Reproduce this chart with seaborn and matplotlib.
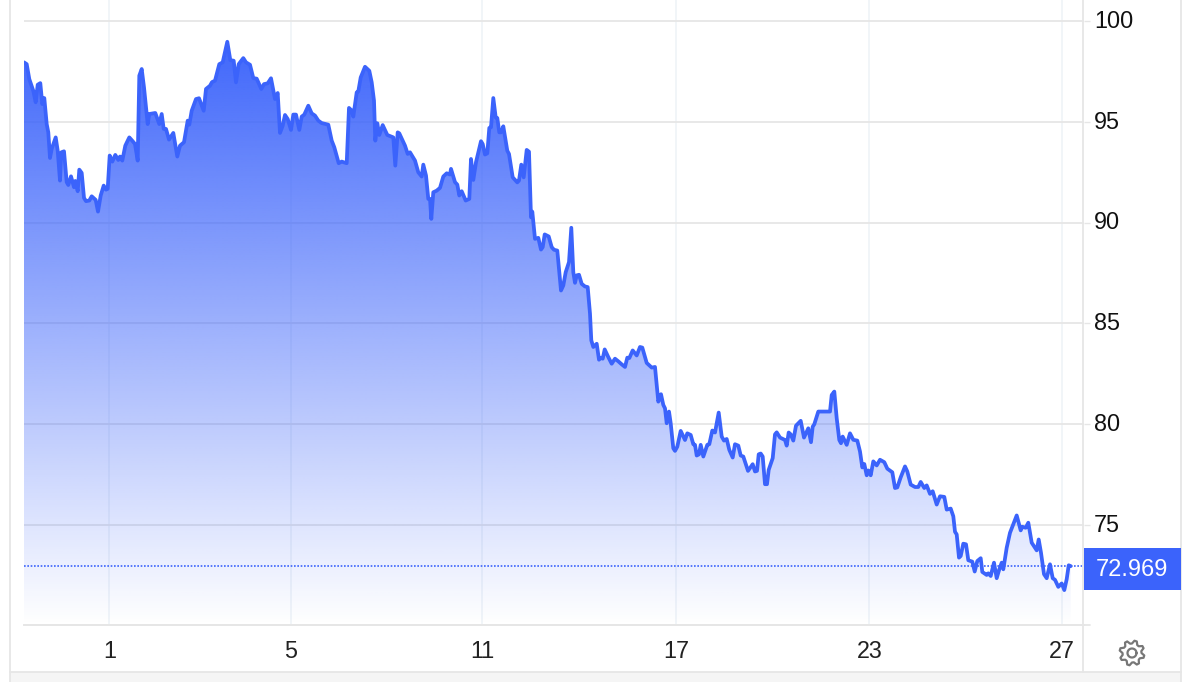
import numpy as np
import pandas as pd
import matplotlib
matplotlib.use("Agg")
import matplotlib.pyplot as plt
from matplotlib.patches import Rectangle, Polygon
from matplotlib.lines import Line2D
from matplotlib.transforms import ScaledTranslation
import seaborn as sns

session_t = [0,2.7,5.3,9.3,11.7,13.7,16.3,18.3,20.3,22.7,24.3,26,27.7,31.7,33.7,36,37.3,40,42.7,44.3,47,50,51.3,53.7,55.3,57.7,60,62,65.3,67.7,71.7,74,76.7,79.7,82,83.7,85.7,88.3,91.3,94.3,96,98.3,101.3,105.3,108.7,111,113.7,115.3,117.7,120,123.7,125.3,131.3,135.3,137.7,139.7,142,145,149.3,153.3,156,160,163.7,165.3,167.7,172,175,179.7,182,186,188,191,195.3,198.7,203.3,206.3,209.7,212,214.7,219.3,222,226,229.3,232.7,237.3,240,243.7,247,251,253.7,256,258.7,261,263.7,267,269.3,272,275.3,277.7,280.3,284.3,287.7,291,294.3,297.7,304.3,307.7,310.3,314.7,317.7,322.7,
325,327.7,329.3,332.7,334.3,336.7,341,345.3,347.7,350,351.3,353.3,355.3,358.7,363.3,369.3,371.3,373.7,375.3,381,383.7,386,391,394.3,397.7,399.3,402,404.3,406,407.3,409.3,412.7,416,419.3,422.7,426,
427,431,433.3,435.3,437.7,441.7,445.3,447,449.3,452,457,458.7,461,463.3,465.3,467,469.3,471.7,473.3,475.3,477,479.3,483.3,485,488.7,493.3,495,497.3,499.7,502.7,505,507,508.3,511,514.3,517,518.7,520.7,524.7,527.7,530,533.3,537,539.3,541.7,545,547.3,549.3,551,552.7,555,557.7,561,563.7,566,567.3,569.3,572.7,575,577,578.7,580.7,584.3,587.7,591,594.3,597.7,601,603.3,605.3,608.7,612.7,616,618.3,622.7,627.7,631,
634.3,637,639.3,641,642.7,645,646.7,649.3,651,653.3,656.7,661,663.3,666.7,669.3,671,672.7,675,676.7,679.3,683.3,685.3,688.3,691,694.7,697.7,700,702.7,705.3,708.7,711,714.3,716.7,719.3,724,728.7,731,733,734.7,736.7,738.7,741,743,744.7,748.7,751,752.7,756,761,762.7,764.7,766.7,769.3,772,776.7,780,784.3,787,788.7,790.3,794.3,806,807.7,810.3,812.7,815.3,817,818.7,822.7,826,
829.3,833.3,836,838.3,840.3,842.7,844.3,846.7,849.3,852.7,856,860.3,863.3,868.3,871,873.3,876.7,881,883.3,886.7,891,894.3,896.7,900.3,902.7,906,908.7,912.7,916,920.3,922.7,926.7,929.3,931,932.7,935,936.7,939.3,942,944.3,948.3,950.7,953.3,956.7,958.3,962.7,964.3,966.7,970,972.7,975.3,977.7,979.3,982.7,986,992.7,996.7,998.3,1001.7,1004.3,1007.7,1012.7,1014.7,1017,1020,1022.7,1026,1028.7,1031,1034.3,1037.7,1040.3,1042.7,1044.7,1046.7]

price = [97.94,97.85,97.11,96.53,95.96,96.83,96.91,95.87,96.17,94.88,94.47,93.20,93.65,94.22,93.56,92.08,93.48,93.53,92.0,91.86,92.29,91.75,92.06,91.55,92.62,92.46,91.22,91.06,91.09,91.30,91.12,90.54,91.34,91.83,91.63,91.67,93.32,93.02,93.35,93.10,93.27,93.07,93.81,94.22,94.03,93.89,93.07,97.28,97.61,96.70,94.88,95.38,95.43,94.88,95.38,94.64,94.64,94.11,94.44,93.27,93.81,93.98,95.05,94.85,95.54,96.12,96.16,95.54,96.62,96.78,96.96,97.03,97.85,97.94,98.96,98.05,98.02,96.95,97.85,98.15,97.94,97.82,97.16,97.13,96.62,96.86,96.90,97.15,96.12,96.42,94.44,94.80,95.33,95.13,94.59,95.35,95.35,94.59,95.25,95.35,95.79,95.41,95.30,95.05,94.93,94.85,94.06,93.73,92.94,93.02,92.94,
95.68,95.55,95.25,96.45,96.50,97.19,97.72,97.52,96.95,96.04,94.06,94.92,94.34,94.83,94.34,94.22,92.82,94.47,94.42,93.81,93.40,93.48,93.07,92.49,92.28,92.87,92.33,91.17,91.17,90.18,91.50,91.58,91.72,92.28,92.44,92.38,
92.66,92.0,91.88,91.34,91.55,91.09,91.17,93.15,92.11,92.99,94.03,93.89,93.37,93.43,94.69,94.72,96.17,95.21,95.18,94.47,94.47,94.77,93.56,93.40,92.24,91.99,92.08,92.87,92.24,93.60,93.51,90.26,90.54,89.19,89.24,88.66,88.78,89.41,89.31,88.78,88.65,88.61,86.63,86.88,87.54,88.04,89.74,87.54,87.01,87.38,87.41,86.96,86.83,86.80,85.48,84.16,83.83,83.99,83.2,83.30,83.25,83.71,83.33,83.0,83.25,83.12,82.97,82.84,83.30,83.28,83.66,83.41,83.83,83.80,83.04,82.81,82.84,
81.12,81.49,80.96,80.79,80.05,80.63,80.05,78.81,78.68,78.89,79.67,79.22,79.55,79.47,79.01,78.98,78.45,78.51,78.98,78.40,78.98,79.01,79.69,79.59,80.58,79.39,79.19,79.27,78.73,78.35,79.01,78.94,78.45,78.40,77.69,78.02,77.66,77.69,78.51,78.55,78.40,77.03,77.03,77.74,78.32,79.50,79.60,79.34,79.22,78.94,79.59,79.50,79.19,79.93,80.17,79.34,79.80,79.11,79.88,80.0,80.63,80.63,81.45,81.62,80.30,79.22,79.06,79.39,78.98,79.55,
79.23,79.19,78.65,77.86,78.03,77.47,77.71,77.47,78.16,77.96,78.24,78.12,77.80,77.62,76.84,76.87,77.37,77.91,77.66,77.01,76.89,76.89,77.14,76.84,76.97,76.55,76.68,76.02,76.43,76.40,75.77,75.82,75.44,74.67,74.54,73.39,73.47,74.08,74.05,73.26,73.19,72.70,73.22,73.36,72.68,72.53,72.61,72.48,73.14,72.37,72.81,73.14,72.81,73.88,74.62,75.48,74.74,74.92,74.87,75.12,74.13,73.75,74.29,73.63,72.57,72.37,73.06,72.37,72.29,71.94,72.11,71.78,72.32,73.01,72.969]

x_tick_pos = [85.3, 266.7, 458.3, 652.3, 845.3, 1038.3]
x_tick_labels = ["1", "5", "11", "17", "23", "27"]
y_ticks = [75, 80, 85, 90, 95, 100]
last_price = 72.969

BLUE = "#3b63fb"
GRID = "#e6e6e6"
VGRID = "#eef2f7"
W, H = 1200, 682

sns.set_theme(style="white")
plt.rcParams["font.family"] = ["Liberation Sans", "DejaVu Sans"]

fig = plt.figure(figsize=(W / 100, H / 100), dpi=100, facecolor="white")
ax = fig.add_axes([24 / W, 1 - 625 / H, (1084 - 24) / W, 625 / H])
XLIM = (0, 1060)
YLIM = (70.05, 101.03)

df = pd.DataFrame({"t": session_t, "price": price})

# grid
ax.set_axisbelow(True)
for x in x_tick_pos:
    ax.axvline(x, color=VGRID, lw=1.1, zorder=1)
for y in y_ticks:
    ax.axhline(y, color=GRID, lw=1.3, zorder=1)

# gradient area
poly = ax.fill_between(df["t"], df["price"], YLIM[0], color="none", lw=0)
grad = np.zeros((256, 2, 4))
grad[..., 0] = 0x3b / 255
grad[..., 1] = 0x63 / 255
grad[..., 2] = 0xfb / 255
grad[..., 3] = np.linspace(0.98, 0.0, 256)[:, None]
top = 99.0
im = ax.imshow(grad, extent=(XLIM[0], XLIM[1], YLIM[0], top), origin="upper",
               aspect="auto", zorder=2, interpolation="bilinear")
im.set_clip_path(poly.get_paths()[0], transform=ax.transData)

# price line
sns.lineplot(data=df, x="t", y="price", ax=ax, color=BLUE, lw=2.7, zorder=3,
             estimator=None, sort=False, solid_joinstyle="round", solid_capstyle="round")
ax.axhline(last_price, color=BLUE, lw=1.2, ls=(0, (1, 1)), zorder=3)

ax.set_xlim(*XLIM)
ax.set_ylim(*YLIM)
ax.set_xlabel("")
ax.set_ylabel("")
ax.set_xticks(x_tick_pos)
ax.set_xticklabels(x_tick_labels)
ax.set_yticks(y_ticks)
ax.yaxis.tick_right()
ax.tick_params(axis="y", length=4.3, width=1, color=GRID, labelsize=16.8, pad=3,
               labelcolor="#111111", right=True, left=False)
ax.tick_params(axis="x", length=0, labelsize=16.8, pad=11, labelcolor="#222222", bottom=False)
shift_up = ScaledTranslation(0, 1.5 / 72, fig.dpi_scale_trans)
for lab in ax.get_yticklabels():
    lab.set_transform(lab.get_transform() + shift_up)
for s in ["top", "left", "right"]:
    ax.spines[s].set_visible(False)
ax.spines["bottom"].set_color(GRID)
ax.spines["bottom"].set_linewidth(1.4)


def px(x, y):
    return x / W, 1 - y / H


# chrome in figure pixel coordinates
fig.add_artist(Rectangle(px(10, H), 1171 / W, 10 / H, transform=fig.transFigure, fc="#f5f5f5", ec="none", zorder=0))
for (x0, y0, x1, y1) in [(10, 0, 10, 682), (1181, 0, 1181, 682), (10, 672, 1181, 672), (1083, 0, 1083, 672), (1084, 625, 1090, 625)]:
    fig.add_artist(Line2D([x0 / W, x1 / W], [1 - y0 / H, 1 - y1 / H], color=GRID, lw=1.3, zorder=1))

# price badge
fig.add_artist(Rectangle(px(1084, 590), 97 / W, 42 / H, transform=fig.transFigure, fc=BLUE, ec="none", zorder=4))
fig.text(1132 / W, 1 - 569.5 / H, "72.969", color="white", fontsize=17, ha="center", va="center", zorder=5)

# settings gear
cx, cy = 1132, 653
n = 8
ang = np.linspace(0, 2 * np.pi, n * 4, endpoint=False) + np.pi / n * 0.5
rad = np.tile([12.5, 12.5, 9.5, 9.5], n)
gear_xy = np.c_[(cx + rad * np.cos(ang)) / W, 1 - (cy + rad * np.sin(ang)) / H]
fig.add_artist(Polygon(gear_xy, closed=True, transform=fig.transFigure, fc="none", ec="#777777", lw=1.6, zorder=5, joinstyle="round"))
ring_t = np.linspace(0, 2 * np.pi, 40)
fig.add_artist(Line2D((cx + 4.5 * np.cos(ring_t)) / W, 1 - (cy + 4.5 * np.sin(ring_t)) / H, color="#777777", lw=1.6, zorder=5))

fig.savefig("out.png", dpi=100, facecolor="white")
